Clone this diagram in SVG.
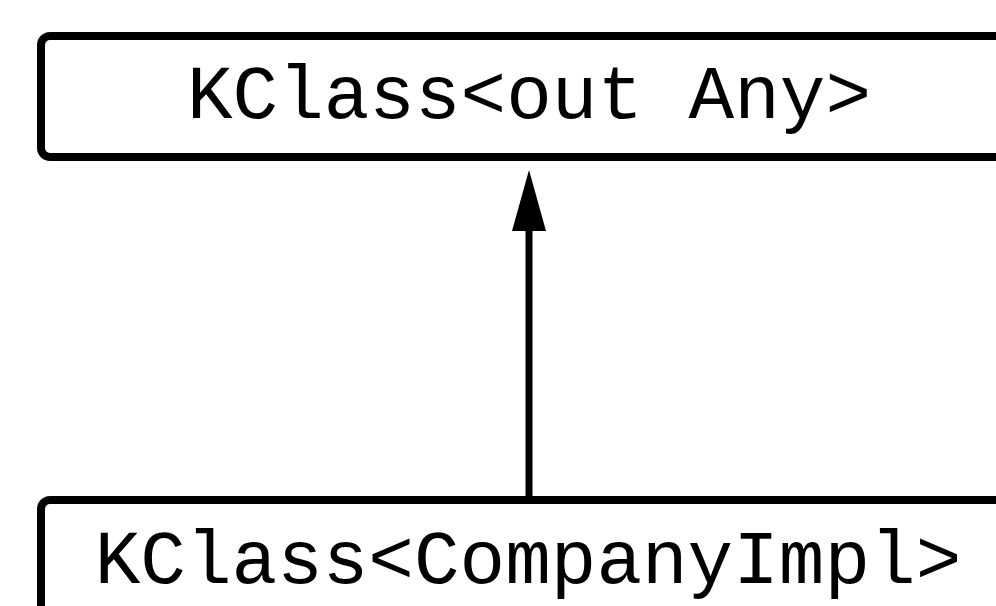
<svg xmlns="http://www.w3.org/2000/svg" width="996" height="606" viewBox="0 0 996 606">
<defs>
<style>
.box{fill:#fff;stroke:#000;stroke-width:8}
.lbl{font-family:"Courier New","Liberation Mono",monospace;font-size:76px;fill:#000;text-anchor:middle}
.edge{stroke:#000;stroke-width:7;fill:none}
.head{fill:#000}
</style>
</defs>
<rect width="996" height="606" fill="#fff"/>
<g id="connectors">
<path class="edge" d="M529,500 L529,205"/>
<path class="head" d="M512,231 L546,231 L529,170 Z"/>
</g>
<g id="node-kclass-any">
<rect class="box" x="41" y="36" width="976" height="121" rx="9"/>
<text class="lbl" x="529" y="118">KClass&lt;out Any&gt;</text>
</g>
<g id="node-kclass-companyimpl">
<rect class="box" x="41" y="500" width="976" height="140" rx="9"/>
<text class="lbl" x="528" y="583">KClass&lt;CompanyImpl&gt;</text>
</g>
</svg>
